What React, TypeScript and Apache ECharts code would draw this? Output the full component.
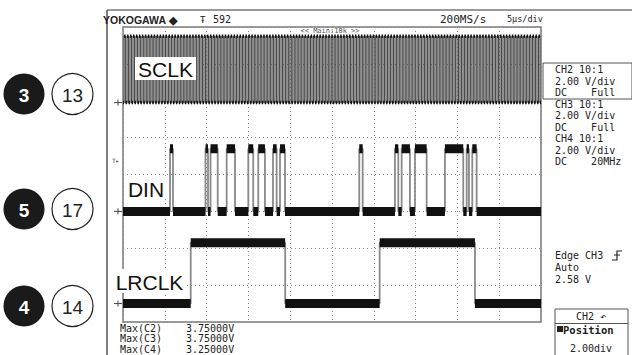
import React, { useEffect, useRef } from "react";
import * as echarts from "echarts";

// Time base: 5 µs/div, 10 divisions across the screen
const timeSpanUs = 50;
const timePerDivUs = 5;
const screenDivs = 8;

// Trace labels, ground marker positions (div from bottom) and logic-high amplitude (div at 2 V/div)
const traceNames = ["SCLK", "DIN", "LRCLK"];
const traceGroundDiv = [5.95, 3.0, 0.5];
const traceHighDiv = [1.8, 1.7, 1.65];

// LRCLK high intervals, µs
const lrclkHighUs = [
  [8.1, 19.4],
  [30.7, 42.1],
];

// DIN high intervals, µs
const dinHighUs = [
  [5.62, 5.98],
  [9.87, 10.17],
  [10.47, 11.33],
  [12.4, 13.4],
  [14.99, 15.58],
  [16.18, 16.98],
  [17.94, 18.38],
  [18.78, 19.38],
  [28.26, 28.67],
  [32.53, 32.93],
  [33.33, 34.32],
  [34.92, 36.32],
  [38.51, 40.7],
  [41.11, 41.38],
  [41.78, 42.3],
];

// SCLK is a free-running bit clock: 64 periods per LRCLK frame, falling edge on LRCLK transitions
const sclkPeriodUs = 0.354;

// Channel readouts
const channelInfo = [
  ["CH2 10:1", "2.00 V/div", "DC    Full"],
  ["CH3 10:1", "2.00 V/div", "DC    Full"],
  ["CH4 10:1", "2.00 V/div", "DC    20MHz"],
];
const triggerInfo = ["Edge CH3", "Auto", "2.58 V"];
const maxLabels = ["Max(C2)", "Max(C3)", "Max(C4)"];
const maxValues = ["3.75000V", "3.75000V", "3.25000V"];
const headerTexts = { brand: "YOKOGAWA \u25C6", record: "592", rate: "200MS/s", timeDiv: "5\u03BCs/div", zoom: "<< Main:10k >>" };

// Pin badges next to each trace: [filled number, outlined number]
const pinBadges = [
  ["3", "13"],
  ["5", "17"],
  ["4", "14"],
];

function sclkHighUs(): number[][] {
  const anchor = lrclkHighUs[0][0];
  let f = anchor - Math.floor(anchor / sclkPeriodUs) * sclkPeriodUs;
  const out: number[][] = [];
  while (f - sclkPeriodUs / 2 < timeSpanUs) {
    out.push([f - sclkPeriodUs / 2, f]);
    f += sclkPeriodUs;
  }
  return out;
}

// Full trace including transitions
function fullTrace(highs: number[][], low: number, high: number) {
  const pts: any[] = [[0, low]];
  for (const [r, f] of highs) {
    pts.push([r, low], [r, high], [f, high], [f, low]);
  }
  pts.push([timeSpanUs, low]);
  return pts;
}

// Only the settled levels, broken at every transition
function levelTrace(highs: number[][], low: number, high: number) {
  const pts: any[] = [];
  let t = 0;
  for (const [r, f] of highs) {
    pts.push([t, low], [r, low], [r, "-"]);
    pts.push([r, high], [f, high], [f, "-"]);
    t = f;
  }
  pts.push([t, low], [timeSpanUs, low]);
  return pts;
}

const GRID = { left: 123, top: 27, width: 418, height: 295 };
const MONO = "DejaVu Sans Mono";

export default function App() {
  const ref = useRef<HTMLDivElement>(null);

  useEffect(() => {
    document.body.style.margin = "0";
    const chart = echarts.init(ref.current!, null, { renderer: "svg" });

    const highs = [sclkHighUs(), dinHighUs, lrclkHighUs];
    const series: any[] = [];
    highs.forEach((h, i) => {
      const low = traceGroundDiv[i];
      const high = low + traceHighDiv[i];
      series.push({
        type: "line",
        name: traceNames[i] + " edges",
        data: fullTrace(h, low, high),
        symbol: "none",
        lineStyle: { color: i === 0 ? "#4a4a4a" : "#8a8a8a", width: i === 0 ? 1.1 : 1.8 },
        z: 2,
      });
      series.push({
        type: "line",
        name: traceNames[i] + " levels",
        data: levelTrace(h, low, high),
        symbol: "none",
        connectNulls: false,
        lineStyle: { color: "#111", width: i === 0 ? 3.5 : 9, cap: "butt" },
        z: 3,
      });
    });

    const graphic: any[] = [];
    // outer screen borders
    graphic.push({ type: "line", shape: { x1: 107, y1: 10, x2: 632, y2: 10 }, style: { stroke: "#777", lineWidth: 1.5 } });
    graphic.push({ type: "line", shape: { x1: 107, y1: 10, x2: 107, y2: 355 }, style: { stroke: "#555", lineWidth: 1.5 } });

    // header
    const txt = (x: number, y: number, text: string, font: string, extra: any = {}) => ({
      type: "text",
      x,
      y,
      style: { text, font, fill: "#222", align: "left", verticalAlign: "middle", ...extra },
      z: 10,
    });
    graphic.push(txt(103, 20, headerTexts.brand, "bold 10.5px Arial"));
    graphic.push(txt(200, 20, "\u0166", "9px " + MONO));
    graphic.push(txt(213, 19, headerTexts.record, "10px " + MONO));
    graphic.push(txt(440, 19, headerTexts.rate, "11px " + MONO));
    graphic.push(txt(507, 19, headerTexts.timeDiv, "8.5px " + MONO));
    graphic.push(txt(330, 31, headerTexts.zoom, "7px " + MONO, { align: "center", fill: "#555" }));

    // channel readouts
    graphic.push({ type: "rect", shape: { x: 543, y: 63, width: 89, height: 36 }, style: { fill: "none", stroke: "#555", lineWidth: 1 } });
    channelInfo.forEach((lines, c) => {
      lines.forEach((line, k) => {
        graphic.push(txt(555, 69.5 + c * 34.5 + k * 11.5, line, "10px " + MONO));
      });
    });
    triggerInfo.forEach((line, k) => {
      graphic.push(txt(555, 255.5 + k * 12, line, "10px " + MONO));
    });
    graphic.push({
      type: "polyline",
      shape: { points: [[612, 260], [617, 260], [617, 251], [622, 251]] },
      style: { stroke: "#222", lineWidth: 1.2, fill: "none" },
      z: 10,
    });
    graphic.push({ type: "line", shape: { x1: 614, y1: 255, x2: 620, y2: 255 }, style: { stroke: "#222", lineWidth: 1 }, z: 10 });

    // position knob box
    graphic.push({ type: "rect", shape: { x: 555, y: 309, width: 73, height: 60 }, style: { fill: "none", stroke: "#555", lineWidth: 1 } });
    graphic.push({ type: "line", shape: { x1: 555, y1: 323.5, x2: 628, y2: 323.5 }, style: { stroke: "#555", lineWidth: 1 } });
    graphic.push(txt(591, 316.5, "CH2 \u21B6", "10px " + MONO, { align: "center" }));
    graphic.push({ type: "rect", shape: { x: 557, y: 326, width: 6, height: 6 }, style: { fill: "#222" }, z: 10 });
    graphic.push(txt(563, 329.5, "Position", "bold 10.5px " + MONO));
    graphic.push(txt(570, 348, "2.00div", "10px " + MONO));

    // measurement readouts
    maxLabels.forEach((l, k) => {
      graphic.push(txt(120, 328 + k * 10.5, l, "10px " + MONO));
      graphic.push(txt(186, 328 + k * 10.5, maxValues[k], "10px " + MONO));
    });

    // ground markers and trigger level marker
    traceGroundDiv.forEach((g) => {
      const y = GRID.top + GRID.height - (g / screenDivs) * GRID.height;
      graphic.push({ type: "line", shape: { x1: 114, y1: y, x2: 122, y2: y }, style: { stroke: "#444", lineWidth: 1 }, z: 10 });
      graphic.push({ type: "line", shape: { x1: 118, y1: y - 3, x2: 118, y2: y + 3 }, style: { stroke: "#444", lineWidth: 1 }, z: 10 });
    });
    graphic.push(txt(112, 160, "T\u25B8", "6px " + MONO, { fill: "#444" }));

    // trace name tags
    const tags = [
      { x: 135, y: 57, w: 61, h: 23 },
      { x: 125, y: 177, w: 42, h: 22 },
      { x: 113, y: 269, w: 73, h: 24 },
    ];
    tags.forEach((t, i) => {
      graphic.push({ type: "rect", shape: { x: t.x, y: t.y, width: t.w, height: t.h }, style: { fill: "#fff" }, z: 11 });
      graphic.push({
        type: "text",
        x: t.x + t.w / 2,
        y: t.y + t.h / 2 + 1,
        style: { text: traceNames[i], font: "21px Arial", fill: "#111", align: "center", verticalAlign: "middle" },
        z: 12,
      });
    });

    // pin badges
    const badgeY = [94, 209, 306];
    pinBadges.forEach(([a, b], i) => {
      graphic.push({ type: "circle", shape: { cx: 24, cy: badgeY[i], r: 20.5 }, style: { fill: "#1a1a1a" } });
      graphic.push({
        type: "text",
        x: 24,
        y: badgeY[i] + 1,
        style: { text: a, font: "bold 19px Arial", fill: "#fff", align: "center", verticalAlign: "middle" },
      });
      graphic.push({ type: "circle", shape: { cx: 72.5, cy: badgeY[i], r: 20.5 }, style: { fill: "#fff", stroke: "#222", lineWidth: 1.2 } });
      graphic.push({
        type: "text",
        x: 72.5,
        y: badgeY[i] + 1,
        style: { text: b, font: "19px Arial", fill: "#222", align: "center", verticalAlign: "middle" },
      });
    });

    chart.setOption({
      animation: false,
      backgroundColor: "#fff",
      grid: { ...GRID, show: true, borderColor: "#7a7a7a", borderWidth: 1.5, backgroundColor: "#fff" },
      xAxis: {
        type: "value",
        min: 0,
        max: timeSpanUs,
        interval: timePerDivUs,
        axisLine: { show: false },
        axisTick: { show: false },
        axisLabel: { show: false },
        splitLine: { show: true, lineStyle: { color: "#8a8a8a", width: 1, type: [1, 3] } },
      },
      yAxis: {
        type: "value",
        min: 0,
        max: screenDivs,
        interval: 1,
        axisLine: { show: false },
        axisTick: { show: false },
        axisLabel: { show: false },
        splitLine: { show: true, lineStyle: { color: "#8a8a8a", width: 1, type: [1, 3] } },
      },
      series,
      graphic,
    });

    return () => chart.dispose();
  }, []);

  return <div ref={ref} style={{ width: 632, height: 355 }} />;
}
